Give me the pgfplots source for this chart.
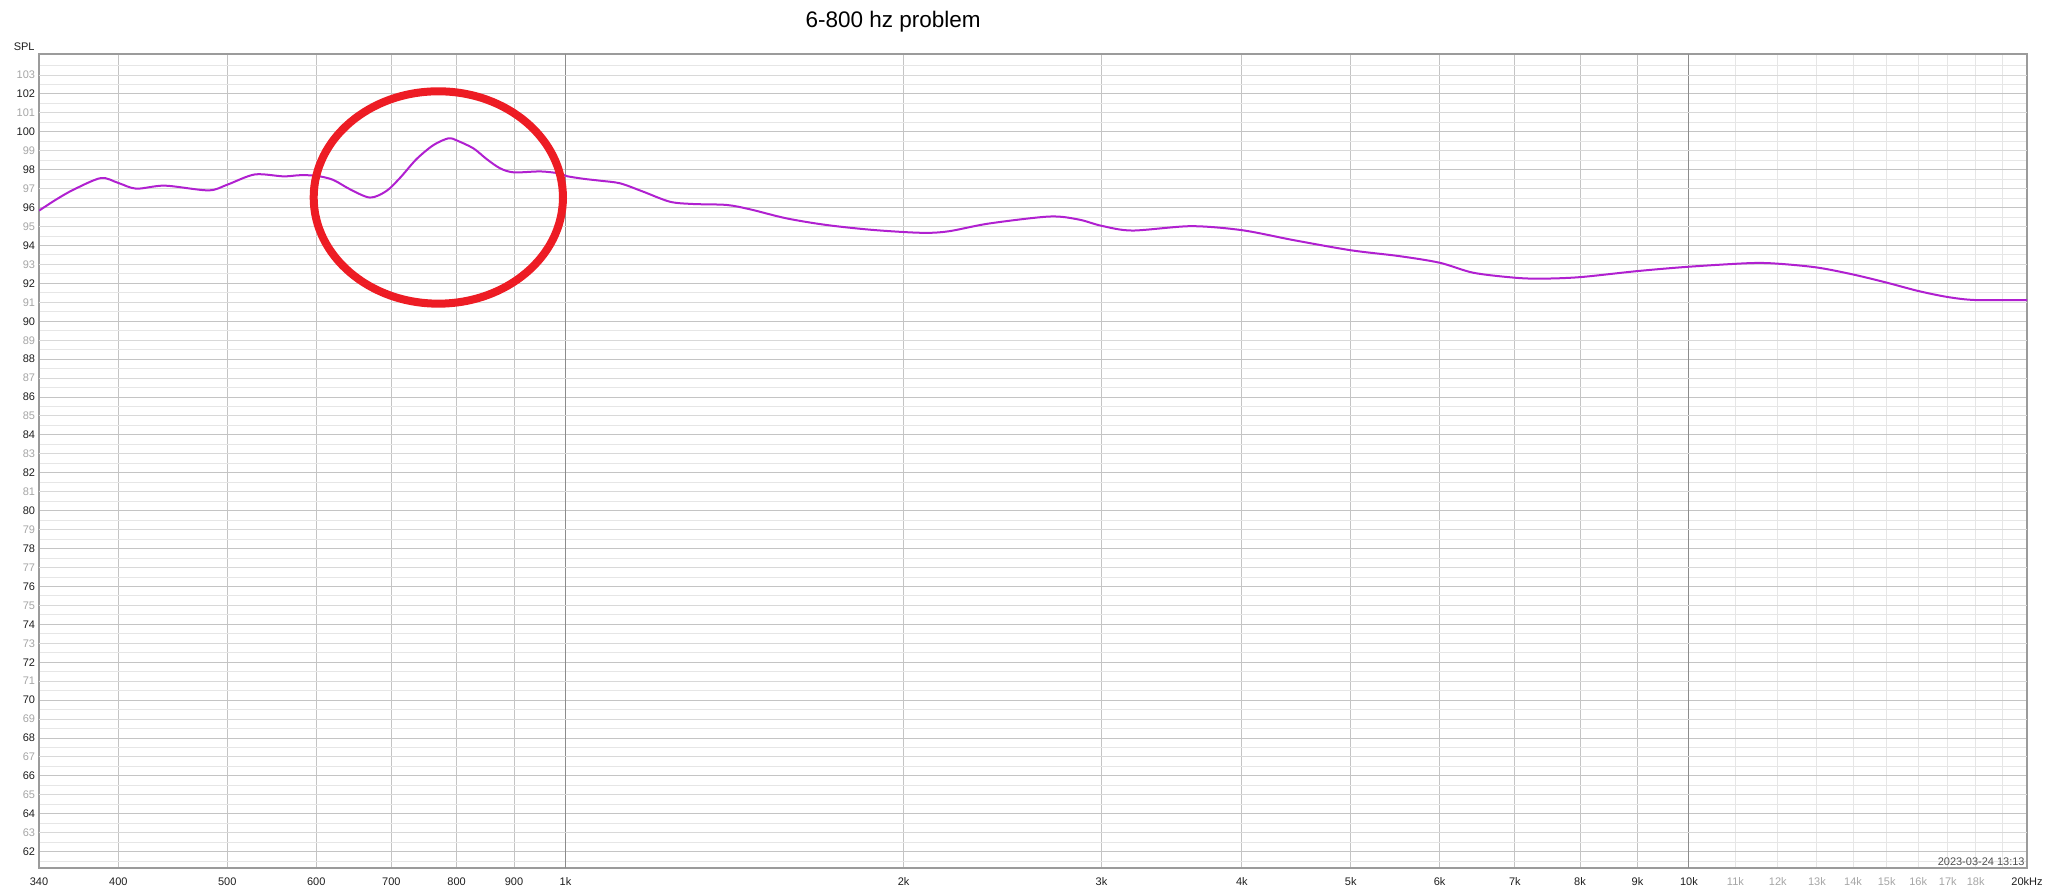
\documentclass[border=0pt]{standalone}
\usepackage{pgfplots}
\pgfplotsset{compat=1.18}
\usepackage{fontspec}
\setmainfont{Liberation Sans}
\usetikzlibrary{calc}
\definecolor{curve}{RGB}{176,32,208}
\definecolor{gMajor}{RGB}{196,196,196}
\definecolor{gOdd}{RGB}{216,216,216}
\definecolor{gMinor}{RGB}{230,230,230}
\definecolor{gDark}{RGB}{140,140,140}
\definecolor{lblGray}{RGB}{165,165,165}
\definecolor{lblDark}{RGB}{30,30,30}
\definecolor{stamp}{RGB}{80,80,80}
\definecolor{circ}{RGB}{237,28,36}
\definecolor{border}{RGB}{155,155,155}
\pgfplotstableread{
f db
340 95.84
352 96.42
365 96.95
386 97.56
400 97.30
415 97.00
440 97.16
481 96.91
500 97.21
529 97.75
561 97.65
580 97.71
600 97.68
621 97.47
643 96.97
670 96.53
693 96.88
713 97.59
737 98.56
763 99.30
787 99.66
800 99.55
828 99.13
851 98.56
875 98.07
900 97.86
950 97.91
989 97.80
1003 97.66
1038 97.52
1074 97.42
1119 97.28
1173 96.84
1239 96.31
1300 96.19
1392 96.14
1460 95.91
1574 95.43
1709 95.08
1880 94.82
2075 94.67
2193 94.75
2382 95.16
2697 95.53
2864 95.37
3000 95.04
3196 94.79
3603 95.02
4000 94.81
4451 94.28
5000 93.75
5524 93.44
6000 93.09
6431 92.56
7000 92.30
7395 92.25
8000 92.33
9000 92.65
10000 92.88
11333 93.07
12000 93.04
13000 92.84
14000 92.47
15000 92.04
16000 91.60
17000 91.28
18000 91.12
20000 91.12
}\fr
\begin{document}
\begin{tikzpicture}
\begin{axis}[
  scale only axis, width=994pt, height=407pt,
  xmode=log, xmin=340, xmax=20000, ymin=61.14, ymax=104.11,
  major tick length=0pt, minor tick length=0pt,
  ticklabel style={font=\fontsize{5.5}{6.6}\selectfont},
  xticklabel style={inner sep=0pt, anchor=north, yshift=-4.5pt, text=lblDark},
  yticklabel style={inner sep=0pt, anchor=east, xshift=-1.8pt, text=lblDark},
  /pgf/number format/assume math mode=true,
  name=main,
  axis line style={draw=border, line width=1.2pt},
  xtick={340,400,500,600,700,800,900,2000,3000,4000,5000,6000,7000,8000,9000,20000},
  xticklabels={340,400,500,600,700,800,900,2k,3k,4k,5k,6k,7k,8k,9k,20kHz},
  extra x ticks={1000,10000},
  extra x tick labels={1k,10k},
  extra x tick style={grid=major, major grid style={draw=gDark, line width=0.5pt}},
  minor xtick={11000,12000,13000,14000,15000,16000,17000,18000,19000},
  ytick={62,64,...,102},
  extra y ticks={63,65,...,103},
  extra y tick style={grid=major, major grid style={draw=gOdd, line width=0.5pt},
    yticklabel style={text=lblGray}},
  minor ytick={61.5,62.5,...,103.5},
  xmajorgrids, xminorgrids, ymajorgrids, yminorgrids,
  major grid style={draw=gMajor, line width=0.5pt},
  minor grid style={draw=gMinor, line width=0.5pt},
]
\addplot[color=curve, line width=1pt, smooth, tension=0.5] table[x=f, y=db] {\fr};
\coordinate (e1) at (axis cs:597,90.93);
\coordinate (e2) at (axis cs:995,102.14);
\end{axis}
\begin{axis}[
  scale only axis, width=994pt, height=407pt,
  xmode=log, xmin=340, xmax=20000, ymin=61.14, ymax=104.11,
  major tick length=0pt, minor tick length=0pt,
  ticklabel style={font=\fontsize{5.5}{6.6}\selectfont},
  xticklabel style={inner sep=0pt, anchor=north, yshift=-4.5pt, text=lblGray},
  axis line style={draw=none},
  ytick=\empty,
  xtick={11000,12000,13000,14000,15000,16000,17000,18000},
  xticklabels={11k,12k,13k,14k,15k,16k,17k,18k},
]
\end{axis}
\draw[circ, line width=4pt] let \p1=(e1), \p2=(e2) in
  ({0.5*(\x1+\x2)},{0.5*(\y1+\y2)}) ellipse [x radius={0.5*(\x2-\x1)}, y radius={0.5*(\y2-\y1)}];
\node[font=\fontsize{11.25}{13}\selectfont, anchor=center] at ([yshift=16pt]$(main.north west)!0.4296!(main.north east)$) {6-800 hz problem};
\node[font=\fontsize{5.5}{6.6}\selectfont, anchor=east, inner sep=0pt, text=lblDark] at ([xshift=-2pt,yshift=3.6pt]main.north west) {SPL};
\node[font=\fontsize{5.5}{6.6}\selectfont, anchor=south east, inner sep=0pt, text=stamp] at ([xshift=-1pt,yshift=1.2pt]main.south east) {2023-03-24 13:13};
\pgfresetboundingbox
\path[use as bounding box] ([xshift=-19.5pt,yshift=-12.5pt]main.south west) rectangle ([xshift=10.5pt,yshift=27pt]main.north east);
\end{tikzpicture}
\end{document}
